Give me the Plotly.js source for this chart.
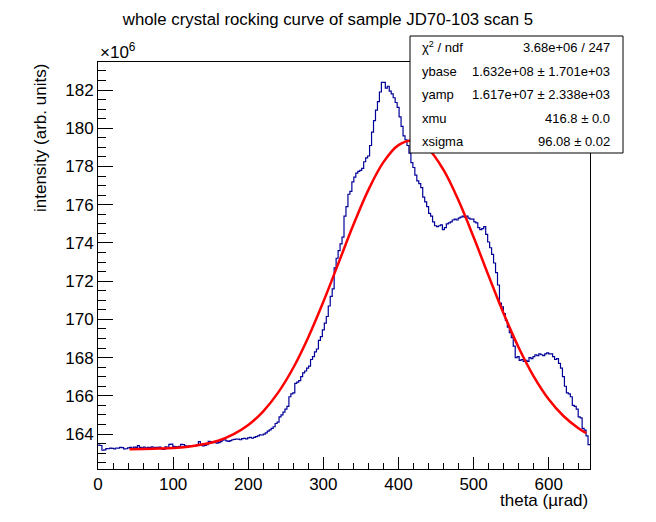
<!DOCTYPE html>
<html>
<head>
<meta charset="utf-8">
<script src="https://cdn.plot.ly/plotly-3.0.1.min.js"></script>
<style>html,body{margin:0;padding:0;background:#fff;}#chart{width:656px;height:522px;}</style>
</head>
<body>
<div id="chart"></div>
<script>
// ---- data (intensity in units of 1e6) ----
const BIN_WIDTH = 2.62;      // theta bin width (µrad), 250 bins from 0 to 655
const THETA_MAX = 655;
const intensity = [
  163.42,163.40,163.15,163.17,163.24,163.23,163.26,163.25,163.22,163.27,
  163.26,163.30,163.29,163.22,163.23,163.28,163.30,163.27,163.31,163.30,
  163.39,163.30,163.28,163.31,163.27,163.30,163.29,163.33,163.28,163.30,
  163.30,163.31,163.22,163.20,163.33,163.30,163.46,163.47,163.35,163.34,
  163.33,163.35,163.46,163.45,163.38,163.35,163.38,163.37,163.40,163.38,
  163.45,163.60,163.42,163.38,163.40,163.45,163.62,163.60,163.55,163.56,
  163.52,163.55,163.60,163.68,163.70,163.64,163.62,163.66,163.70,163.72,
  163.74,163.73,163.70,163.76,163.77,163.75,163.80,163.82,163.78,163.83,
  163.86,163.90,163.96,163.95,164.00,164.06,164.15,164.22,164.30,164.38,
  164.55,164.62,164.90,165.00,165.15,165.30,165.45,165.95,166.10,166.15,
  166.65,166.72,166.80,167.00,167.20,167.30,167.45,167.55,167.90,168.05,
  168.30,168.45,168.90,169.10,169.45,169.80,170.15,170.70,171.20,171.60,
  172.70,173.20,173.60,173.95,174.30,175.40,175.90,176.55,176.70,177.20,
  177.45,177.65,177.75,177.80,177.90,178.25,178.45,178.55,179.10,179.80,
  180.40,180.95,181.40,181.90,182.40,182.40,182.10,182.20,181.95,181.80,
  181.60,181.35,181.10,180.60,180.10,179.60,179.40,179.10,178.70,178.20,
  177.95,177.55,177.25,177.10,176.90,176.40,176.15,175.90,175.55,175.40,
  175.10,174.90,174.85,174.90,174.95,174.70,174.80,175.00,175.05,175.10,
  175.20,175.25,175.20,175.30,175.35,175.40,175.35,175.40,175.30,175.25,
  175.25,175.10,175.05,174.80,174.70,174.75,174.85,174.45,174.05,173.75,
  173.40,172.95,172.45,171.80,170.85,170.65,170.30,169.95,169.60,169.30,
  169.05,168.60,168.00,168.05,167.85,167.90,167.80,167.85,167.80,168.00,
  167.95,168.05,168.15,168.10,168.20,168.15,168.10,168.20,168.25,168.20,
  168.20,168.05,167.90,167.95,167.70,167.45,167.00,166.50,166.15,166.10,
  165.95,165.50,165.45,165.30,164.90,164.85,164.30,164.20,163.90,163.45
];
const fitTheta = [42,60,80,100,120,140,160,180,200,220,240,260,280,300,320,340,360,380,400,420,440,460,480,500,520,540,560,580,600,620,640,650];
const fitIntensity = [163.21,163.22,163.24,163.27,163.34,163.46,163.65,163.98,164.47,165.19,166.18,167.47,169.07,170.92,172.93,174.95,176.78,178.23,179.12,179.36,178.91,177.82,176.22,174.31,172.28,170.31,168.53,167.02,165.82,164.93,164.29,164.05];
const statLabels = ["χ<sup>2</sup> / ndf","ybase","yamp","xmu","xsigma"];
const statValues = ["3.68e+06 / 247","1.632e+08 ± 1.701e+03","1.617e+07 ± 2.338e+03","416.8 ± 0.0","96.08 ± 0.02"];
const Y_RANGE = [162.17, 183.47];

// ---- build histogram edges ----
const histX = intensity.map((_, i) => i * BIN_WIDTH);
histX.push(THETA_MAX);
const histY = intensity.slice();
histY.push(intensity[intensity.length - 1]);

const FONT = "Liberation Sans, Arial, Helvetica, sans-serif";

// plot area in pixels
const L = 98, R = 590, T = 62, B = 469;
const px = p => (p - L) / (R - L);
const py = p => (B - p) / (B - T);

const traces = [
  {x: histX, y: histY, type: 'scatter', mode: 'lines', line: {shape: 'hv', color: '#000099', width: 1.2}, hoverinfo: 'skip'},
  {x: fitTheta, y: fitIntensity, type: 'scatter', mode: 'lines', line: {shape: 'spline', smoothing: 1, color: '#ff0000', width: 2.5}, hoverinfo: 'skip'}
];

const annotations = [
  {xref:'paper', yref:'paper', x: 0, y: py(64), xanchor:'left', yanchor:'bottom', text:'×10<sup>6</sup>', showarrow:false, font:{family:FONT, size:17, color:'#000'}},
  {xref:'paper', yref:'paper', x: px(40), y: 1, xanchor:'center', yanchor:'top', textangle:-90, text:'intensity (arb. units)', showarrow:false, font:{family:FONT, size:17, color:'#000'}},
  {xref:'paper', yref:'paper', x: 1, y: py(500.5), xanchor:'right', yanchor:'middle', text:'theta (µrad)', showarrow:false, font:{family:FONT, size:17, color:'#000'}}
];
const rowY = [47.5, 71.1, 94.7, 118.3, 141.9];
statLabels.forEach((t, i) => {
  annotations.push({xref:'paper', yref:'paper', x: px(420), y: py(rowY[i]), xanchor:'left', yanchor:'middle', text:t, showarrow:false, font:{family:FONT, size:13, color:'#000'}});
  annotations.push({xref:'paper', yref:'paper', x: px(612), y: py(rowY[i]), xanchor:'right', yanchor:'middle', text:statValues[i], showarrow:false, font:{family:FONT, size:13, color:'#000'}});
});

const layout = {
  width: 656, height: 522,
  margin: {l: L, r: 656 - R, t: T, b: 522 - B, pad: 0},
  paper_bgcolor: '#fff', plot_bgcolor: '#fff',
  showlegend: false,
  title: {text: 'whole crystal rocking curve of sample JD70-103 scan 5', x: 0.5, xref: 'container', xanchor: 'center', y: 1 - 19/522, yref: 'container', yanchor: 'middle', font: {family: FONT, size: 16.8, color: '#000'}},
  xaxis: {
    range: [0, THETA_MAX], tick0: 0, dtick: 100, ticks: 'inside', ticklen: 12, tickwidth: 1, tickcolor: '#000',
    showline: true, linecolor: '#000', linewidth: 1, mirror: true, showgrid: false, zeroline: false,
    tickfont: {family: FONT, size: 17, color: '#000'},
    minor: {dtick: 20, ticks: 'inside', ticklen: 6, tickwidth: 1, tickcolor: '#000', showgrid: false}
  },
  yaxis: {
    range: Y_RANGE, tick0: 0, dtick: 2, ticks: 'inside', ticklen: 15, tickwidth: 1, tickcolor: '#000',
    showline: true, linecolor: '#000', linewidth: 1, mirror: true, showgrid: false, zeroline: false,
    tickfont: {family: FONT, size: 17, color: '#000'},
    minor: {dtick: 0.5, ticks: 'inside', ticklen: 8, tickwidth: 1, tickcolor: '#000', showgrid: false}
  },
  shapes: [
    {type: 'rect', xref: 'paper', yref: 'paper', x0: px(410), x1: px(623), y0: py(153), y1: py(36), fillcolor: '#fff', line: {color: '#000', width: 1}, layer: 'above'}
  ],
  annotations: annotations
};

Plotly.newPlot('chart', traces, layout, {staticPlot: true, displayModeBar: false});
</script>
</body>
</html>
